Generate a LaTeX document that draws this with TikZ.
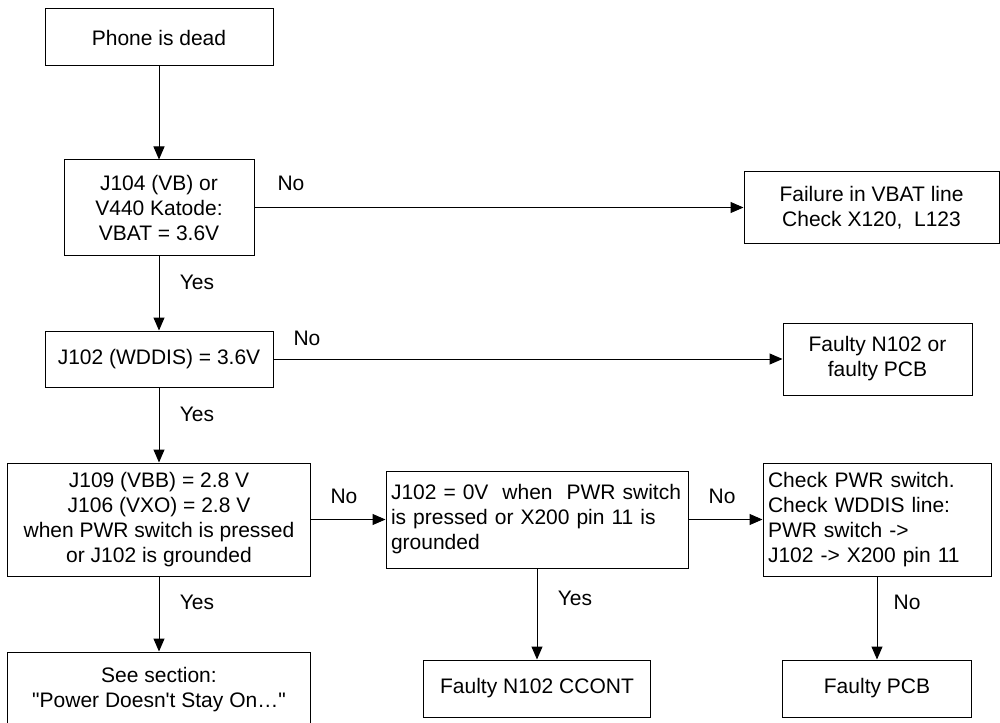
\documentclass[tikz,border=0pt]{standalone}
\usepackage{fontspec}
\setmainfont{Liberation Sans}
\usetikzlibrary{arrows.meta}
\begin{document}
\begin{tikzpicture}[x=1pt,y=-1pt,
  every node/.style={font=\fontsize{21}{25}\selectfont},
  box/.style={draw, line width=1pt, inner sep=0pt, align=center},
  lbox/.style={draw, line width=1pt, inner xsep=5pt, inner ysep=0pt, align=left},
  lab/.style={inner sep=0pt},
  arr/.style={line width=1pt, -{Triangle[length=13pt,width=11pt]}}]
\useasboundingbox (0,0) rectangle (1000,722);
\node[box, minimum width=228pt, minimum height=57pt] (phone) at (159,37.5) {Phone is dead};
\node[box, minimum width=190pt, minimum height=95pt] (j104) at (159,207.5) {J104 (VB) or\\V440 Katode:\\VBAT = 3.6V};
\node[box, minimum width=255pt, minimum height=71pt] (fail) at (871.5,207.5) {Failure in VBAT line\\Check X120,\ \ L123};
\node[box, minimum width=228pt, minimum height=56pt] (j102) at (159,359) {J102 (WDDIS) = 3.6V};
\node[box, minimum width=189pt, minimum height=72pt] (n102) at (877.5,359) {Faulty N102 or\\faulty PCB};
\node[box, minimum width=303pt, minimum height=113pt] (j109) at (159,519.5) {J109 (VBB) = 2.8 V\\J106 (VXO) = 2.8 V\\when PWR switch is pressed\\or J102 is grounded};
\node[lbox, text width=292pt, minimum height=97pt] (zero) at (537,519.5) {J102 = 0V\ \ when\ \ PWR switch\\is pressed or X200 pin 11 is\\grounded};
\node[lbox, text width=218pt, minimum height=113pt] (check) at (877,519.5) {Check PWR switch.\\Check WDDIS line:\\PWR switch -\textgreater\\J102 -\textgreater{} X200 pin 11};
\node[box, minimum width=303pt, minimum height=76pt] (see) at (159,690) {See section:\\\textquotedbl Power Doesn\textquotesingle t Stay On…\textquotedbl};
\node[box, minimum width=227pt, minimum height=57pt] (cc) at (537,688.5) {Faulty N102 CCONT};
\node[box, minimum width=189pt, minimum height=57pt] (pcb) at (877,688.5) {Faulty PCB};

\draw[arr] (phone) -- (j104);
\draw[arr] (j104) -- (fail);
\draw[arr] (j104) -- (j102);
\draw[arr] (j102) -- (n102);
\draw[arr] (j102) -- (j109);
\draw[arr] (j109) -- (see);
\draw[arr] (j109) -- (zero);
\draw[arr] (zero) -- (check);
\draw[arr] (zero) -- (cc);
\draw[arr] (check) -- (pcb);

\node[lab] (no1) at (291,183) {No};
\node[lab] (no2) at (307,338) {No};
\node[lab] (no3) at (344,496) {No};
\node[lab] (no4) at (722,496) {No};
\node[lab] (no5) at (907,602) {No};
\node[lab] (yes1) at (197,282) {Yes};
\node[lab] (yes2) at (197,414) {Yes};
\node[lab] (yes3) at (197,602) {Yes};
\node[lab] (yes4) at (575,598) {Yes};
\end{tikzpicture}
\end{document}
